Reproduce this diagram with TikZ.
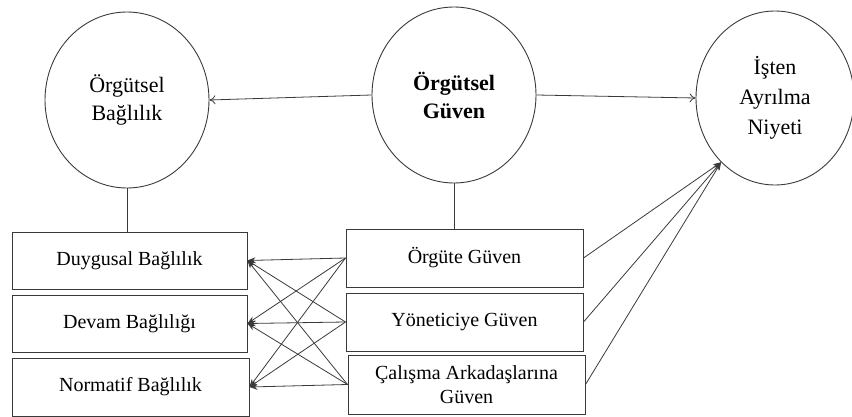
\documentclass[tikz,border=0pt]{standalone}
\usepackage{fontspec}
\setmainfont{Liberation Serif}
\usetikzlibrary{arrows.meta,shapes.geometric}
\definecolor{ink}{HTML}{3A3A3A}
\begin{document}
\begin{tikzpicture}[x=1pt,y=-1pt,
  circ/.style={draw=ink,line width=0.9pt,ellipse,inner sep=0pt,minimum width=164pt,minimum height=176pt,align=center,font=\fontsize{22}{28}\selectfont},
  box/.style={draw=ink,line width=1pt,rectangle,inner sep=0pt,minimum width=236pt,minimum height=57pt,align=center,font=\fontsize{20}{24}\selectfont},
  conn/.style={draw=ink,line width=0.8pt},
  openarr/.style={conn,-{To[length=6pt,width=9pt]}},
  fillarr/.style={conn,-{Stealth[length=8pt,width=6pt]}}]
\useasboundingbox (0,0) rectangle (852,417);
% circles
\node[circ] (bag) at (127,100) {Örgütsel\\Bağlılık};
\node[circ] (guv) at (454,95) {\textbf{Örgütsel}\\\textbf{Güven}};
\node[circ,minimum width=158pt,minimum height=174pt,font=\fontsize{22}{30}\selectfont] (niy) at (775,98) {İşten\\Ayrılma\\Niyeti};
% left boxes
\node[box,minimum width=235pt] (duy) at (129.5,260.5) {Duygusal Bağlılık};
\node[box,minimum width=235pt] (dev) at (129.5,323.5) {Devam Bağlılığı};
\node[box,minimum width=237pt,minimum height=58pt] (nor) at (130.5,387) {Normatif Bağlılık};
% right boxes
\node[box,minimum width=237pt,minimum height=58pt] (org) at (464.5,258) {Örgüte Güven};
\node[box,minimum width=237pt,minimum height=58pt] (yon) at (464.5,322) {Yöneticiye Güven};
\node[box,minimum width=237pt,minimum height=59pt] (cal) at (466.5,384.5) {Çalışma Arkadaşlarına\\Güven};
% circle arrows
\draw[openarr] (guv.west) -- (bag.east);
\draw[openarr] (guv.east) -- (niy.west);
% vertical links
\draw[conn] (bag.south) -- (bag.south |- duy.north);
\draw[conn] (guv.south) -- (guv.south |- org.north);
% cross arrows
\foreach \s in {org,yon,cal}{
  \foreach \t in {duy,dev,nor}{
    \draw[fillarr] (\s.west) -- (\t.east);
  }
  \draw[fillarr] (\s.east) -- (niy.230);
}
\end{tikzpicture}
\end{document}
